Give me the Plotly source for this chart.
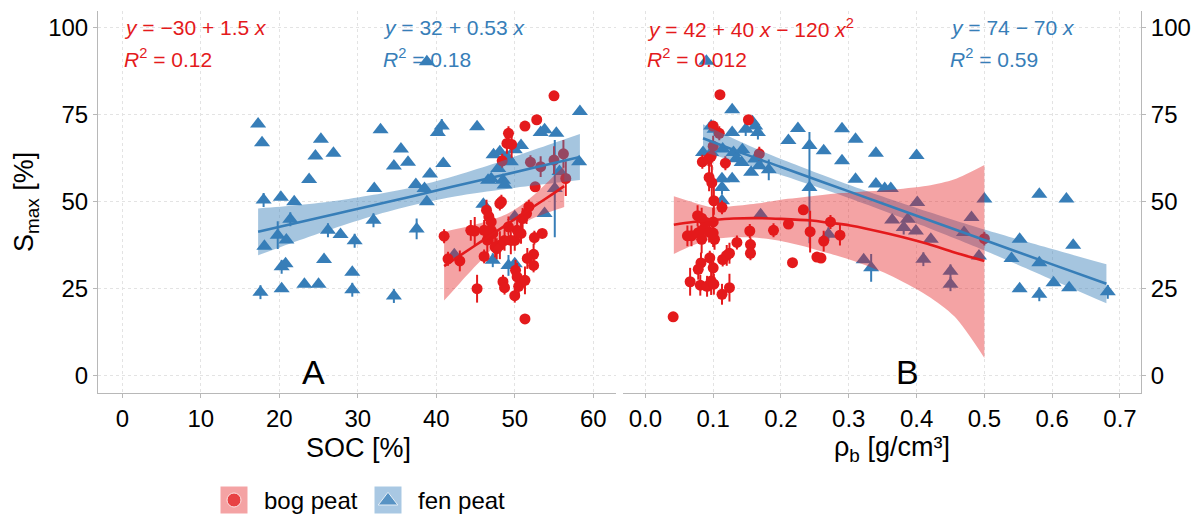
import plotly.graph_objects as go

RED = "#E41A1C"
BLUE = "#377EB8"
RED_FILL = "rgba(228,26,28,0.40)"
BLUE_FILL = "rgba(55,126,184,0.45)"
RED_KEY = "#F4A3A4"
BLUE_KEY = "#A9C8E3"
FONT = "Liberation Sans, Arial, sans-serif"

# ---------------- Panel A : SOC vs Smax ----------------
bog_soc = [41.0, 41.5, 43.0, 44.4, 44.9, 45.2, 46.1, 46.4, 46.7, 47.0, 46.5, 47.2, 47.5, 48.1, 48.3,
           48.4, 49.0, 49.2, 49.6, 48.5, 48.7, 50.0, 50.1, 50.3, 50.5, 51.3, 51.3, 51.3, 52.0, 52.6,
           52.4, 51.6, 52.4, 52.5, 53.5, 53.3, 52.8, 55.0, 55.0, 56.2, 56.5, 51.0, 51.5, 51.8, 50.0,
           50.3, 50.8, 49.5, 49.2, 48.7, 48.1, 47.7, 46.1, 47.0]
bog_smax_a = [40.1, 33.6, 33.0, 41.8, 41.6, 25.0, 34.3, 47.6, 45.7, 44.2, 39.0, 40.9, 37.0, 49.5, 50.0,
              61.8, 66.8, 69.7, 66.5, 27.0, 25.3, 23.0, 30.3, 28.4, 25.7, 27.4, 16.3, 71.8, 61.4, 54.3,
              34.9, 33.7, 31.7, 39.7, 40.9, 60.1, 73.6, 80.5, 62.0, 63.8, 56.7, 45.2, 46.6, 48.6, 38.9,
              41.8, 40.9, 38.9, 42.8, 38.9, 37.5, 36.5, 41.8, 41.8]
bog_err_a = [2, 2, 3, 3, 4, 4, 2, 3, 3, 3, 4, 5, 3, 2, 2,
             2, 3, 2, 4, 2, 2, 2, 3, 4, 3, 4, 0, 0, 2, 0,
             3, 3, 2, 2, 0, 3, 0, 0, 4, 4, 5, 3, 3, 2, 3,
             3, 3, 4, 3, 3, 4, 3, 3, 4]

fen_soc = [17.3, 17.8, 18.0, 18.1, 17.6, 20.2, 19.8, 20.9, 21.4, 21.9, 20.3, 20.8, 20.3, 23.2, 23.8,
           24.6, 25.3, 25.0, 26.2, 25.7, 26.9, 27.8, 29.3, 29.6, 29.3, 32.1, 32.0, 32.9, 34.6, 34.6,
           35.5, 36.4, 37.4, 37.5, 38.5, 38.8, 39.2, 38.8, 40.2, 40.7, 40.9, 45.2, 46.0, 46.6, 47.0,
           47.3, 47.9, 48.1, 48.5, 48.7, 49.0, 49.5, 50.0, 50.8, 47.2, 49.2, 50.0, 50.0, 53.3, 53.8,
           55.3, 53.8, 55.1, 55.7, 58.3, 58.2, 42.3]
fen_smax_a = [72.4, 67.0, 50.5, 37.2, 24.0, 51.3, 40.4, 39.0, 45.0, 50.0, 31.3, 32.2, 25.0, 26.3, 56.4,
              63.2, 68.0, 26.3, 41.8, 33.4, 64.0, 40.6, 29.7, 38.8, 24.7, 53.8, 44.7, 70.7, 22.9, 60.3,
              65.2, 61.4, 55.0, 42.2, 53.8, 50.0, 58.0, 90.3, 69.9, 71.8, 61.0, 71.6, 49.3, 56.2, 56.6,
              63.5, 59.6, 64.4, 56.2, 54.8, 63.0, 61.5, 65.0, 66.2, 33.2, 31.7, 32.2, 45.7, 69.9, 70.7,
              69.7, 46.6, 53.8, 58.7, 76.0, 61.5, 34.8]
fen_err_a = [0, 0, 2, 0, 2, 0, 4, 0, 2, 0, 2, 0, 0, 0, 0,
             0, 0, 0, 2, 0, 0, 0, 0, 2, 2, 0, 2, 0, 2, 0,
             0, 0, 0, 3, 0, 0, 0, 0, 0, 2, 0, 0, 0, 0, 0,
             0, 0, 0, 0, 0, 0, 0, 0, 0, 2, 3, 0, 0, 0, 0,
             0, 0, 14, 0, 0, 0, 0]

# fitted models, panel A
fitA_bog_x = [41.0, 43.0, 45.0, 47.0, 49.0, 51.0, 53.0, 55.0, 56.3]
fitA_bog_y = [31.5, 34.5, 37.5, 40.5, 43.5, 46.5, 49.5, 52.5, 54.5]
fitA_bog_lo = [21.6, 26.6, 31.5, 36.2, 40.5, 43.7, 45.9, 47.5, 48.5]
fitA_bog_hi = [41.4, 42.4, 43.5, 44.8, 46.5, 49.3, 53.1, 57.5, 60.4]

fitA_fen_x = [17.3, 22.0, 27.0, 32.0, 37.0, 42.0, 47.0, 52.0, 58.3]
fitA_fen_y = [41.4, 43.8, 46.4, 49.0, 51.6, 54.3, 56.9, 59.6, 62.9]
fitA_fen_lo = [34.6, 38.5, 42.4, 46.0, 49.0, 51.4, 53.1, 54.6, 56.3]
fitA_fen_hi = [48.1, 48.9, 50.2, 52.0, 54.2, 57.2, 60.7, 64.6, 69.5]

# ---------------- Panel B : bulk density vs Smax ----------------
bog_rho = [0.041, 0.110, 0.152, 0.100, 0.109, 0.084, 0.093, 0.097, 0.100, 0.094, 0.098, 0.101, 0.113,
           0.118, 0.168, 0.077, 0.083, 0.088, 0.100, 0.062, 0.068, 0.078, 0.083, 0.086, 0.094, 0.100,
           0.102, 0.082, 0.078, 0.066, 0.081, 0.091, 0.097, 0.101, 0.095, 0.100, 0.113, 0.124, 0.114,
           0.120, 0.124, 0.135, 0.154, 0.155, 0.155, 0.189, 0.211, 0.217, 0.233, 0.243, 0.253, 0.259,
           0.263, 0.273, 0.287, 0.500]
bog_smax_b = [16.9, 80.8, 73.6, 71.8, 69.7, 61.5, 62.3, 63.1, 66.0, 57.0, 55.5, 50.3, 48.4,
              61.1, 63.8, 46.0, 45.3, 44.2, 44.2, 40.2, 40.2, 41.1, 39.2, 42.1, 41.3, 41.0,
              39.2, 32.4, 30.6, 27.0, 26.0, 25.7, 27.2, 26.3, 33.9, 31.0, 23.4, 25.3, 33.4,
              34.6, 35.2, 38.3, 41.6, 37.7, 35.2, 41.8, 43.6, 32.5, 47.7, 41.4, 34.1, 33.8,
              38.7, 44.2, 40.4, 39.4]
bog_err_b = [0, 0, 0, 0, 2, 2, 2, 3, 3, 4, 5, 4, 2,
             2, 2, 3, 3, 2, 4, 3, 3, 2, 4, 3, 3, 4,
             3, 3, 3, 4, 3, 3, 4, 3, 2, 3, 3, 4, 2,
             3, 3, 2, 2, 2, 2, 2, 0, 0, 0, 6, 0, 0,
             3, 2, 3, 2]

fen_rho = [0.090, 0.128, 0.148, 0.097, 0.102, 0.128, 0.158, 0.162, 0.166, 0.097, 0.085, 0.114, 0.130,
           0.134, 0.143, 0.142, 0.156, 0.162, 0.168, 0.182, 0.113, 0.128, 0.113, 0.113, 0.211, 0.225,
           0.242, 0.242, 0.263, 0.290, 0.290, 0.310, 0.310, 0.340, 0.340, 0.353, 0.362, 0.400, 0.401,
           0.364, 0.387, 0.381, 0.399, 0.421, 0.410, 0.170, 0.270, 0.322, 0.333, 0.450, 0.450, 0.470,
           0.481, 0.492, 0.500, 0.540, 0.552, 0.552, 0.581, 0.581, 0.581, 0.602, 0.621, 0.625, 0.631,
           0.682]
fen_smax_b = [90.4, 76.5, 70.9, 71.8, 70.9, 69.9, 73.0, 71.8, 69.9, 64.2, 64.2, 65.2, 64.2,
              62.4, 65.0, 61.3, 58.5, 62.3, 60.4, 59.2, 56.6, 56.6, 54.1, 50.3, 67.6, 71.1,
              66.2, 54.1, 64.7, 71.0, 61.8, 68.0, 56.5, 64.0, 55.1, 53.8, 53.8, 63.3, 49.8,
              44.8, 45.0, 42.6, 41.6, 39.2, 33.5, 46.3, 40.7, 33.3, 31.0, 30.0, 26.3, 41.2,
              45.5, 34.4, 50.8, 33.7, 39.2, 25.0, 52.2, 32.5, 23.4, 26.7, 50.8, 25.3, 37.5,
              24.1]
fen_err_b = [0, 0, 2, 0, 2, 0, 0, 0, 2, 0, 0, 0, 0,
             0, 0, 0, 0, 0, 0, 3, 0, 0, 2, 0, 0, 0,
             0, 16, 0, 0, 0, 0, 0, 0, 0, 0, 0, 0, 0,
             0, 0, 2, 0, 0, 2, 0, 2, 0, 4, 2, 2, 0,
             0, 0, 0, 0, 0, 0, 0, 0, 2, 0, 0, 0, 0,
             2]

# fitted models, panel B
fitB_bog_x = [0.042, 0.070, 0.100, 0.130, 0.168, 0.200, 0.245, 0.270, 0.302, 0.359, 0.416, 0.456, 0.500]
fitB_bog_y = [43.4, 44.2, 44.8, 45.2, 45.3, 45.1, 44.6, 44.0, 43.2, 40.8, 37.9, 35.4, 33.0]
fitB_bog_lo = [35.0, 37.5, 39.2, 39.8, 39.6, 38.7, 36.6, 35.2, 33.3, 29.0, 23.0, 17.0, 5.1]
fitB_bog_hi = [51.6, 49.9, 48.4, 48.8, 49.6, 50.6, 51.6, 52.2, 52.7, 53.4, 54.6, 56.5, 60.6]

fitB_fen_x = [0.085, 0.150, 0.200, 0.300, 0.400, 0.500, 0.600, 0.680]
fitB_fen_y = [68.3, 63.5, 60.0, 53.0, 46.0, 39.0, 32.0, 26.4]
fitB_fen_lo = [64.3, 60.6, 57.7, 51.1, 43.8, 36.0, 27.6, 20.8]
fitB_fen_hi = [72.3, 66.4, 62.3, 54.9, 48.2, 42.0, 36.4, 32.0]

# annotation texts
eqA_bog = ["<i>y</i> = \u221230 + 1.5 <i>x</i>", "<i>R</i><sup>2</sup> = 0.12"]
eqA_fen = ["<i>y</i> = 32 + 0.53 <i>x</i>", "<i>R</i><sup>2</sup> = 0.18"]
eqB_bog = ["<i>y</i> = 42 + 40 <i>x</i> \u2212 120 <i>x</i><sup>2</sup>", "<i>R</i><sup>2</sup> = 0.012"]
eqB_fen = ["<i>y</i> = 74 \u2212 70 <i>x</i>", "<i>R</i><sup>2</sup> = 0.59"]
y_ticks = [0, 25, 50, 75, 100]
xA_ticks = [0, 10, 20, 30, 40, 50, 60]
xB_ticks = [0.0, 0.1, 0.2, 0.3, 0.4, 0.5, 0.6, 0.7]
xB_ticktext = ["0.0", "0.1", "0.2", "0.3", "0.4", "0.5", "0.6", "0.7"]
legend_names = ["bog peat", "fen peat"]

fig = go.Figure()


def points(x, y, err, color, symbol, size, xa, ya):
    fig.add_trace(go.Scatter(
        x=x, y=y, mode="markers", xaxis=xa, yaxis=ya, showlegend=False,
        marker=dict(color=color, symbol=symbol, size=size, line=dict(width=0)),
        error_y=dict(type="data", array=err, visible=True, color=color, thickness=2, width=0),
        hoverinfo="skip"))


def band(x, lo, hi, fill, xa, ya):
    fig.add_trace(go.Scatter(x=x, y=lo, mode="lines", line=dict(width=0, shape="spline", smoothing=0.8),
                             xaxis=xa, yaxis=ya, showlegend=False, hoverinfo="skip"))
    fig.add_trace(go.Scatter(x=x, y=hi, mode="lines", line=dict(width=0, shape="spline", smoothing=0.8),
                             fill="tonexty", fillcolor=fill, xaxis=xa, yaxis=ya,
                             showlegend=False, hoverinfo="skip"))


def fitline(x, y, color, xa, ya):
    fig.add_trace(go.Scatter(x=x, y=y, mode="lines", line=dict(color=color, width=2.6, shape="spline"),
                             xaxis=xa, yaxis=ya, showlegend=False, hoverinfo="skip"))


# points first, ribbons on top (as in the original)
points(fen_soc, fen_smax_a, fen_err_a, BLUE, "triangle-up", 14, "x", "y")
points(bog_soc, bog_smax_a, bog_err_a, RED, "circle", 11, "x", "y")
points(fen_rho, fen_smax_b, fen_err_b, BLUE, "triangle-up", 14, "x2", "y2")
points(bog_rho, bog_smax_b, bog_err_b, RED, "circle", 11, "x2", "y2")

band(fitA_fen_x, fitA_fen_lo, fitA_fen_hi, BLUE_FILL, "x", "y")
band(fitA_bog_x, fitA_bog_lo, fitA_bog_hi, RED_FILL, "x", "y")
band(fitB_fen_x, fitB_fen_lo, fitB_fen_hi, BLUE_FILL, "x2", "y2")
band(fitB_bog_x, fitB_bog_lo, fitB_bog_hi, RED_FILL, "x2", "y2")
fitline(fitA_fen_x, fitA_fen_y, BLUE, "x", "y")
fitline(fitA_bog_x, fitA_bog_y, RED, "x", "y")
fitline(fitB_fen_x, fitB_fen_y, BLUE, "x2", "y2")
fitline(fitB_bog_x, fitB_bog_y, RED, "x2", "y2")

# legend (drawn on a hidden helper axis, ggplot-style keys)
fig.add_trace(go.Scatter(x=[34, 188], y=[0, 0], mode="markers", xaxis="x3", yaxis="y3", showlegend=False,
                         marker=dict(symbol="square", size=27, color=[RED_KEY, BLUE_KEY]), hoverinfo="skip"))
fig.add_trace(go.Scatter(x=[34, 188], y=[0, -0.05], mode="markers", xaxis="x3", yaxis="y3", showlegend=False,
                         marker=dict(symbol=["circle", "triangle-up"], size=[14, 17], color=[RED, BLUE]),
                         hoverinfo="skip"))

grid = dict(showgrid=True, gridcolor="#e3e3e3", griddash="dot", gridwidth=1, zeroline=False,
            showline=True, linecolor="#b8b8b8", linewidth=1, ticks="outside", ticklen=4,
            tickcolor="#b8b8b8", tickfont=dict(size=24, color="#000000", family=FONT))

fig.update_layout(
    width=1200, height=515, autosize=False,
    margin=dict(l=0, r=0, t=0, b=0),
    paper_bgcolor="white", plot_bgcolor="white",
    font=dict(family=FONT, color="#000000"),
    showlegend=False,
    xaxis=dict(domain=[98 / 1200, 616 / 1200], range=[-3.1, 62.9], tickvals=xA_ticks,
               anchor="y", ticklabelstandoff=0, **grid),
    yaxis=dict(domain=[122 / 515, 504.4 / 515], range=[-5, 105], tickvals=y_ticks,
               anchor="x", ticklabelstandoff=0, **grid),
    xaxis2=dict(domain=[623 / 1200, 1141 / 1200], range=[-0.033, 0.731], tickvals=xB_ticks,
                ticktext=xB_ticktext, anchor="y2", ticklabelstandoff=0, **grid),
    yaxis2=dict(domain=[122 / 515, 504.4 / 515], range=[-5, 105], tickvals=y_ticks,
                anchor="x2", side="right", ticklabelstandoff=0, **grid),
    xaxis3=dict(domain=[200 / 1200, 520 / 1200], range=[0, 320], visible=False, fixedrange=True),
    yaxis3=dict(domain=[0, 30 / 515], range=[-1, 1], visible=False, fixedrange=True, anchor="x3"),
)

ann = []


def eq(lines, x, color, xref, yref):
    for txt, yv in zip(lines, [100, 91.5]):
        ann.append(dict(text=txt, x=x, y=yv, xref=xref, yref=yref, xanchor="left", yanchor="middle",
                        showarrow=False, font=dict(size=21, color=color, family=FONT)))


eq(eqA_bog, 0, RED, "x", "y")
eq(eqA_fen, 33.0, BLUE, "x", "y")
eq(eqB_bog, 0.0, RED, "x2", "y2")
eq(eqB_fen, 0.447, BLUE, "x2", "y2")
for name, xv in zip(legend_names, [62, 216]):
    ann.append(dict(text=name, x=xv, y=0, xref="x3", yref="y3", xanchor="left", yanchor="middle",
                    showarrow=False, font=dict(size=24, color="#000000", family=FONT)))
ann.append(dict(text="A", x=24.4, y=1, xref="x", yref="y", showarrow=False,
                font=dict(size=34, color="#000000", family=FONT)))
ann.append(dict(text="B", x=0.387, y=1, xref="x2", yref="y2", showarrow=False,
                font=dict(size=34, color="#000000", family=FONT)))
ann.append(dict(text="SOC [%]", x=358 / 1200, y=(515 - 448) / 515, xref="paper", yref="paper",
                xanchor="center", yanchor="middle",
                showarrow=False, font=dict(size=27, color="#000000", family=FONT)))
ann.append(dict(text="\u03c1<sub>b</sub> [g/cm\u00b3]", x=892 / 1200, y=(515 - 449) / 515, xref="paper",
                yref="paper", xanchor="center", yanchor="middle",
                showarrow=False, font=dict(size=27, color="#000000", family=FONT)))
ann.append(dict(text="S<sub>max</sub> [%]", x=26 / 1200, y=(515 - 202) / 515, xref="paper", yref="paper",
                xanchor="center", yanchor="middle",
                textangle=-90, showarrow=False, font=dict(size=27, color="#000000", family=FONT)))
fig.update_layout(annotations=ann)

fig.write_html("out.html", config={"displayModeBar": False},
               post_script="document.body.style.margin='0';")
